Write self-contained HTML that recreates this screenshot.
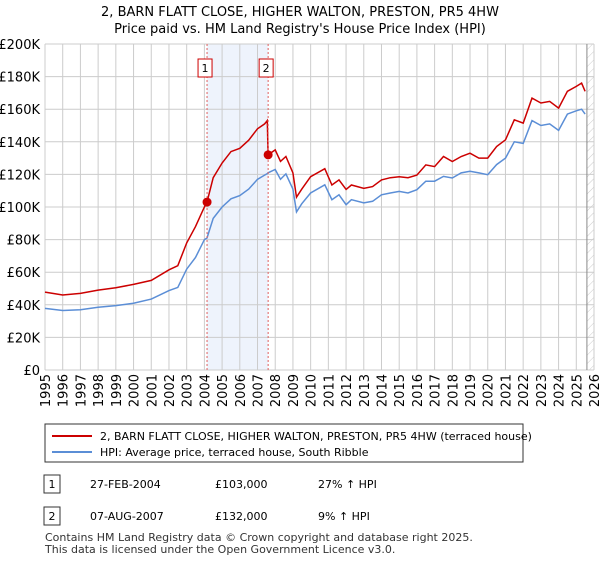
<!DOCTYPE html>
<html><head><meta charset="utf-8"><style>
body{margin:0;background:#fff;font-family:"Liberation Sans","DejaVu Sans",sans-serif;}
svg text{font-family:"DejaVu Sans","Liberation Sans",sans-serif;}
</style></head><body>
<svg id="c" width="600" height="560" xmlns="http://www.w3.org/2000/svg">
<defs><pattern id="hatch" width="6" height="6" patternUnits="userSpaceOnUse" patternTransform="rotate(45)"><line x1="0" y1="0" x2="0" y2="6" stroke="#ccc" stroke-width="1"/></pattern></defs>
<text x="300" y="16" text-anchor="middle" font-size="13">2, BARN FLATT CLOSE, HIGHER WALTON, PRESTON, PR5 4HW</text>
<text x="300" y="33" text-anchor="middle" font-size="13">Price paid vs. HM Land Registry's House Price Index (HPI)</text>
<g id="grid"></g><g id="marks"></g>
<rect x="45" y="424" width="478" height="38" fill="#fff" stroke="#333"/>
<line x1="52" y1="436" x2="92" y2="436" stroke="#cc0000" stroke-width="2"/>
<text x="100" y="440" font-size="11">2, BARN FLATT CLOSE, HIGHER WALTON, PRESTON, PR5 4HW (terraced house)</text>
<line x1="52" y1="452" x2="92" y2="452" stroke="#5b8ed6" stroke-width="2"/>
<text x="100" y="456" font-size="11">HPI: Average price, terraced house, South Ribble</text>
<g font-size="11">
<rect x="44" y="475" width="16" height="18" fill="#fff" stroke="#333"/><text x="52" y="488" text-anchor="middle">1</text>
<text x="90" y="488">27-FEB-2004</text>
<text x="215" y="488">£103,000</text>
<text x="318" y="488">27% ↑ HPI</text>
<rect x="44" y="507" width="16" height="18" fill="#fff" stroke="#333"/><text x="52" y="520" text-anchor="middle">2</text>
<text x="90" y="520">07-AUG-2007</text>
<text x="215" y="520">£132,000</text>
<text x="318" y="520">9% ↑ HPI</text>
</g>
<text x="45" y="541" font-size="11" fill="#333">Contains HM Land Registry data © Crown copyright and database right 2025.</text>
<text x="45" y="553" font-size="11" fill="#333">This data is licensed under the Open Government Licence v3.0.</text>
</svg>
<script>
const dates=[1995,1996,1997,1998,1999,2000,2001,2002,2002.5,2003,2003.5,2004,2004.15,2004.5,2005,2005.5,2006,2006.5,2007,2007.4,2007.55,2007.6,2008,2008.3,2008.6,2009,2009.2,2009.5,2010,2010.8,2011.2,2011.6,2012,2012.3,2013,2013.5,2014,2014.5,2015,2015.5,2016,2016.5,2017,2017.5,2018,2018.5,2019,2019.5,2020,2020.5,2021,2021.5,2022,2022.5,2023,2023.5,2024,2024.5,2025,2025.3,2025.5];
const hpi=[37.8,36.5,37,38.5,39.5,41,43.5,48.7,50.7,61.9,69,80,81,93,100,105,107,111,117,119.6,120.5,121,123,117,120.3,111,97,102,108.6,113.6,104.5,107.5,101.4,104.5,102.5,103.5,107.5,108.6,109.6,108.6,110.6,115.8,115.8,118.8,117.8,120.9,121.9,120.9,119.8,126,130,140,139,153,150,151,147,157,159,160,157];
const price=[47.8,46,47,49,50.5,52.5,55,61.5,64,78,88,100,103,118,127,134,136,141,148,151,153,132,135,128,131,121,106,111,118.6,123.5,113.5,116.6,110.8,113.5,111.4,112.5,116.6,118,118.6,118,119.6,125.8,124.8,131,127.9,131,133,130,130,137.1,141.2,153.5,151.5,166.8,163.8,164.8,160.7,171,174,176,171];
const yTicks=[0,20,40,60,80,100,120,140,160,180,200];
const xTicks=[1995,1996,1997,1998,1999,2000,2001,2002,2003,2004,2005,2006,2007,2008,2009,2010,2011,2012,2013,2014,2015,2016,2017,2018,2019,2020,2021,2022,2023,2024,2025,2026];
const saleDates=[2004.15,2007.6];
const salePrices=[103,132];
const saleLabels=["1","2"];
const X0=45,X1=594,Y0=370,Y1=44;
const sx=d=>X0+(d-1995)/(2026-1995)*(X1-X0);
const sy=v=>Y0-v/200*(Y0-Y1);
const NS="http://www.w3.org/2000/svg";
function mk(parent,tag,attrs){const e=document.createElementNS(NS,tag);for(const k in attrs)e.setAttribute(k,attrs[k]);parent.appendChild(e);return e;}
const g=document.getElementById('grid'),m=document.getElementById('marks');
let sh=mk(g,'rect',{x:sx(saleDates[0]),y:Y1,width:sx(saleDates[1])-sx(saleDates[0]),height:Y0-Y1,fill:'#eef3fc'});


let ht=mk(g,'rect',{x:sx(2025.6),y:Y1,width:X1-sx(2025.6),height:Y0-Y1,fill:'url(#hatch)'});


yTicks.forEach(v=>{
 let l=mk(g,'line',{x1:X0,x2:X1,y1:sy(v),y2:sy(v),stroke:'#ccc'});
 
 
 let t=mk(g,'text',{x:X0-5,y:sy(v)+5,'text-anchor':'end','font-size':13});
 t.textContent='£'+(v?v+'K':'0');
 
 
});
xTicks.forEach(d=>{
 let l=mk(g,'line',{x1:sx(d),x2:sx(d),y1:Y1,y2:Y0,stroke:'#ccc'});
 
 
 let t=mk(g,'text',{x:0,y:0,'text-anchor':'end','font-size':13,transform:`translate(${sx(d)+5},${Y0+4}) rotate(-90)`});
 t.textContent=d;
 
 
});
let vl=mk(g,'line',{x1:sx(2025.6),x2:sx(2025.6),y1:Y1,y2:Y0,stroke:'#888'});


const path=arr=>dates.map((d,i)=>(i?'L':'M')+sx(d).toFixed(1)+','+sy(arr[i]).toFixed(1)).join('');
let hl=mk(m,'path',{d:path(hpi),fill:'none',stroke:'#5b8ed6','stroke-width':1.5});


let pl=mk(m,'path',{d:path(price),fill:'none',stroke:'#cc0000','stroke-width':1.5});


saleDates.forEach((d,i)=>{
 let l=mk(m,'line',{x1:sx(d),x2:sx(d),y1:Y1,y2:Y0,stroke:'#e06060','stroke-dasharray':'2,2'});
 
 
 let c=mk(m,'circle',{cx:sx(d),cy:sy(salePrices[i]),r:4.5,fill:'#cc0000'});
 
 
 let b=mk(m,'rect',{x:sx(d)-9,y:59,width:14,height:18,fill:'#fff',stroke:'#cc0000'});
 
 
 let t=mk(m,'text',{x:sx(d)-2,y:72,'text-anchor':'middle','font-size':11});
 t.textContent=saleLabels[i];
 
 
});
</script>
</body></html>
